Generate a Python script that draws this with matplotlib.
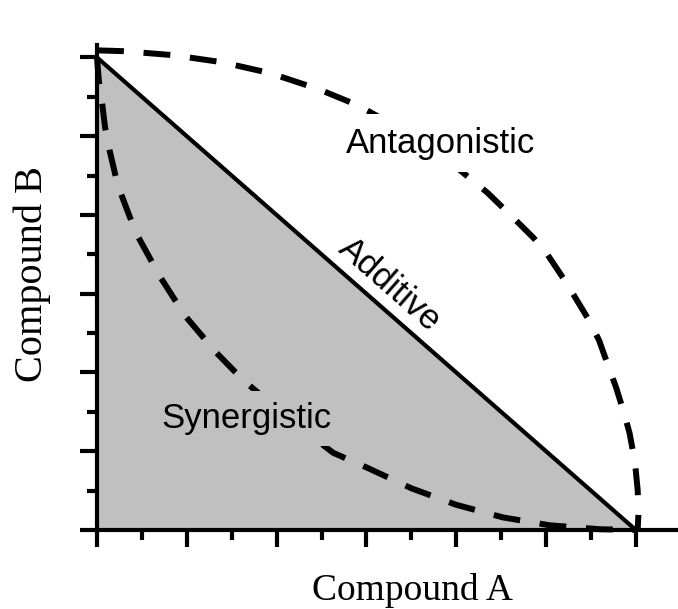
import matplotlib
matplotlib.use("Agg")
import matplotlib.pyplot as plt
from matplotlib.ticker import MultipleLocator

# Additive line (isobole) end points
additive_x = [0.0, 6.0]
additive_y = [6.0, 0.0]

# Antagonistic curve
antag_x = [0.00, 0.29, 0.84, 1.39, 1.93, 2.46, 2.91, 3.60, 4.04, 4.35,
           4.63, 4.86, 5.02, 5.19, 5.31, 5.48, 5.59, 5.69, 5.78, 5.87,
           5.93, 5.99, 6.02, 6.03, 6.02]
antag_y = [6.09, 6.08, 6.03, 5.94, 5.80, 5.60, 5.39, 4.95, 4.57, 4.28,
           3.97, 3.71, 3.49, 3.20, 2.98, 2.66, 2.41, 2.09, 1.81, 1.48,
           1.23, 0.86, 0.51, 0.23, 0.00]

# Synergistic curve
syn_x = [0.00, 0.02, 0.06, 0.09, 0.14, 0.23, 0.43, 0.70, 0.98, 1.33,
         1.63, 2.15, 2.63, 3.01, 3.50, 4.00, 4.52, 5.04, 5.60, 6.00]
syn_y = [6.00, 5.71, 5.39, 5.11, 4.82, 4.38, 3.78, 3.22, 2.72, 2.25,
         1.90, 1.40, 0.98, 0.79, 0.53, 0.32, 0.16, 0.06, 0.01, 0.00]

gray = '#c0c0c0'

fig = plt.figure(figsize=(6.78, 6.09), dpi=100)
ax = fig.add_axes([0.1431, 0.1297, 0.857, 0.796])

# shaded region under the additive line
ax.fill_between(additive_x, additive_y, 0, color=gray, linewidth=0, zorder=1)
ax.plot(additive_x, additive_y, color='black', linewidth=3, zorder=3,
        solid_capstyle='butt')

dash = (4.5, 3.3)
ax.plot(antag_x, antag_y, color='black', linewidth=4.3, dashes=dash,
        clip_on=False, zorder=2)
ax.plot(syn_x, syn_y, color='black', linewidth=4.3, dashes=dash,
        clip_on=False, zorder=2)

# labels
ax.text(3.82, 4.91, 'Antagonistic', fontsize=25, family='Liberation Sans',
        ha='center', va='center', zorder=4,
        bbox=dict(facecolor='white', edgecolor='none', pad=9))
ax.text(1.66, 1.42, 'Synergistic', fontsize=25, family='Liberation Sans',
        ha='center', va='center', zorder=4,
        bbox=dict(facecolor=gray, edgecolor='none', pad=8))
ax.text(3.26, 3.11, 'Additive', fontsize=25, family='Liberation Sans',
        ha='center', va='center', rotation=-41.3, rotation_mode='anchor',
        zorder=4)

ax.set_xlim(0, 6.47)
ax.set_ylim(0, 6.155)

for s in ['top', 'right']:
    ax.spines[s].set_visible(False)
for s in ['left', 'bottom']:
    ax.spines[s].set_linewidth(3)
    ax.spines[s].set_zorder(5)

ax.xaxis.set_major_locator(MultipleLocator(1))
ax.xaxis.set_minor_locator(MultipleLocator(0.5))
ax.yaxis.set_major_locator(MultipleLocator(1))
ax.yaxis.set_minor_locator(MultipleLocator(0.5))
ax.tick_params(which='major', direction='out', length=12, width=3,
               labelbottom=False, labelleft=False)
ax.tick_params(which='minor', direction='out', length=7, width=3)

fig.text(412 / 678, 1 - 590 / 609, 'Compound A', fontsize=27,
         family='Liberation Serif', ha='center', va='center')
fig.text(32 / 678, 1 - 274 / 609, 'Compound B', fontsize=29,
         family='Liberation Serif', ha='center', va='center', rotation=90)

fig.savefig('out.png', dpi=100)
